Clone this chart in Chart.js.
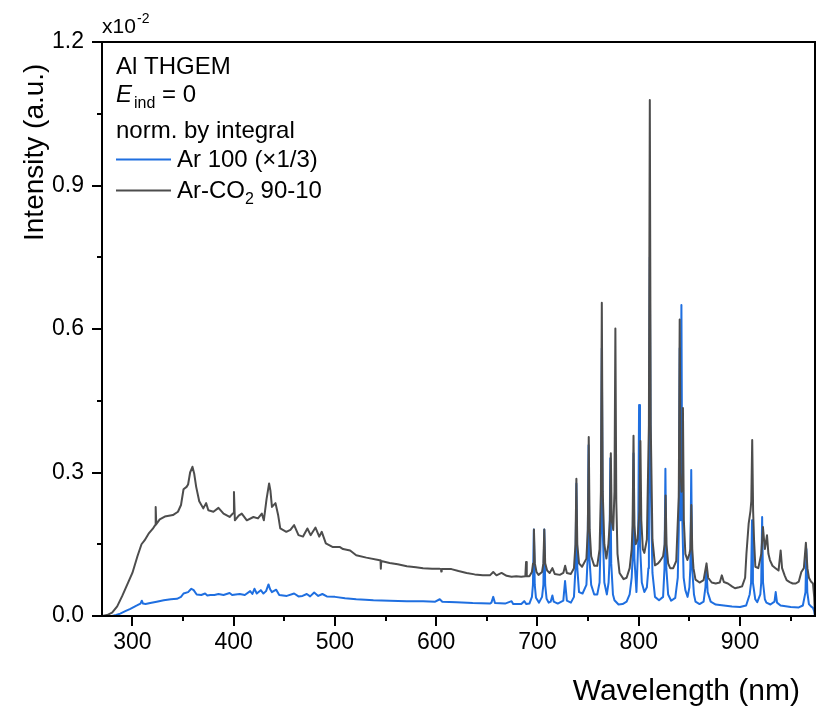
<!DOCTYPE html>
<html>
<head>
<meta charset="utf-8">
<script src="https://cdn.jsdelivr.net/npm/chart.js@4.4.1/dist/chart.umd.min.js"></script>
<style>
  html, body { margin: 0; padding: 0; background: #fff; }
  #c { display: block; }
</style>
</head>
<body>
<canvas id="c" width="830" height="714"></canvas>
<script>
// Ar-CO2 90-10 spectrum (x10^-2, norm. by integral)
const co2Wl = [
  270, 275, 280, 285, 290, 295, 300, 305, 309, 312,
  316, 320, 322.5, 323, 323.6, 327, 332, 340, 345, 348,
  350.5, 353.5, 355, 357, 359.3, 361, 363, 366, 370, 372.8,
  375, 380, 385, 390, 396, 399.5, 400.3, 401.2, 405, 408,
  413, 419.5, 424, 427.8, 429.8, 432.5, 435, 436.3, 437.8, 441.3,
  444, 446, 452, 456, 459.7, 464, 468.5, 472.8, 476, 480.8,
  484.5, 487, 491, 498, 505, 508, 515, 521, 531, 543,
  545, 545.3, 545.7, 554, 562, 571, 580, 587, 596, 603,
  604.7, 605, 605.4, 615, 622, 630, 638, 646, 653, 656.3,
  659.5, 664.5, 669.5, 674.4, 679, 684, 688, 688.7, 689.4, 692,
  694.5, 695.6, 696.5, 697.4, 699, 701, 704.5, 705.8, 706.7, 707.6,
  709.5, 712, 714.7, 717, 722, 725.5, 727.3, 729, 733, 736,
  737.5, 738.4, 739.3, 741, 744, 748.3, 749.7, 750.6, 751.5, 753,
  756, 759, 761.3, 762.6, 763.5, 764.4, 766, 768, 770, 771.5,
  772.4, 773.3, 774.8, 776, 776.9, 777.8, 779, 781, 785, 788,
  791, 793, 793.9, 794.8, 795.7, 797, 798.8, 800.7, 801.6, 802.5,
  804, 805.5, 808, 810, 810.9, 811.8, 813.5, 816, 819, 821,
  824, 825.6, 826.5, 827.4, 829, 831, 834, 837, 839.5, 840.4,
  841.3, 842.2, 842.8, 843.6, 844.5, 846, 848, 850, 851, 851.9,
  852.8, 854, 856, 860, 864, 866.9, 868.5, 872, 876, 880,
  882, 884, 888, 892, 895, 899, 902, 905, 906.3, 908.5,
  910.3, 911.1, 912, 912.9, 913.8, 915.1, 918, 921, 922.6, 924.5,
  926.6, 928, 929.5, 932, 935, 938, 940.1, 941.5, 944, 946,
  949, 952, 955, 958, 960.5, 963, 965, 966.5, 968, 970,
  972, 973.2, 974
];
const co2Int = [
  0.000, 0.002, 0.007, 0.020, 0.042, 0.066, 0.090, 0.125, 0.150, 0.158,
  0.172, 0.182, 0.190, 0.228, 0.192, 0.202, 0.208, 0.211, 0.218, 0.232,
  0.265, 0.270, 0.275, 0.300, 0.312, 0.298, 0.270, 0.240, 0.225, 0.236,
  0.221, 0.218, 0.226, 0.214, 0.207, 0.215, 0.259, 0.200, 0.210, 0.214,
  0.200, 0.207, 0.204, 0.214, 0.200, 0.245, 0.277, 0.262, 0.228, 0.236,
  0.210, 0.183, 0.176, 0.180, 0.190, 0.169, 0.166, 0.183, 0.169, 0.185,
  0.166, 0.176, 0.152, 0.144, 0.144, 0.140, 0.137, 0.127, 0.122, 0.117,
  0.116, 0.099, 0.115, 0.111, 0.108, 0.104, 0.102, 0.100, 0.099, 0.099,
  0.098, 0.093, 0.098, 0.098, 0.094, 0.090, 0.087, 0.085, 0.085, 0.092,
  0.085, 0.090, 0.084, 0.082, 0.083, 0.082, 0.083, 0.113, 0.083, 0.083,
  0.092, 0.110, 0.181, 0.110, 0.092, 0.086, 0.092, 0.110, 0.181, 0.110,
  0.095, 0.090, 0.100, 0.088, 0.086, 0.090, 0.105, 0.090, 0.088, 0.100,
  0.150, 0.287, 0.150, 0.110, 0.103, 0.120, 0.180, 0.374, 0.180, 0.125,
  0.105, 0.105, 0.140, 0.260, 0.655, 0.260, 0.150, 0.120, 0.150, 0.200,
  0.340, 0.200, 0.180, 0.260, 0.601, 0.240, 0.130, 0.090, 0.077, 0.080,
  0.100, 0.140, 0.190, 0.377, 0.190, 0.150, 0.160, 0.220, 0.366, 0.200,
  0.140, 0.132, 0.160, 0.400, 1.079, 0.400, 0.160, 0.106, 0.110, 0.115,
  0.125, 0.150, 0.252, 0.150, 0.110, 0.100, 0.100, 0.115, 0.250, 0.620,
  0.300, 0.260, 0.280, 0.435, 0.200, 0.130, 0.117, 0.130, 0.140, 0.232,
  0.140, 0.100, 0.076, 0.070, 0.075, 0.110, 0.080, 0.070, 0.068, 0.070,
  0.085, 0.071, 0.068, 0.062, 0.058, 0.060, 0.062, 0.080, 0.130, 0.193,
  0.220, 0.240, 0.368, 0.220, 0.160, 0.103, 0.100, 0.130, 0.186, 0.140,
  0.169, 0.130, 0.117, 0.105, 0.100, 0.095, 0.137, 0.100, 0.085, 0.075,
  0.071, 0.068, 0.068, 0.072, 0.092, 0.100, 0.153, 0.100, 0.080, 0.072,
  0.068, 0.040, 0.000
];

// Ar 100 spectrum (x1/3)
const arWl = [
  270, 280, 284, 288, 293, 298, 304.5, 308, 309.3, 310.5,
  313, 317.6, 324, 331, 338, 344, 348, 350.5, 355, 358.2,
  360.5, 363.5, 368, 371.8, 374, 377, 381, 385, 390, 396,
  398.5, 402, 406, 411, 416.3, 418.5, 420.5, 422.8, 426.8, 429.4,
  432, 434.4, 436, 437.7, 442, 445, 452.5, 459.7, 464, 468,
  472.2, 475.5, 479.5, 483.5, 487.6, 492, 500, 510, 521, 530,
  538, 554, 571, 587, 599, 603.5, 606, 620, 636, 653,
  654.5, 656.3, 658, 668, 674.4, 676, 684, 686.9, 689, 692,
  694.5, 695.5, 696.4, 697.3, 698.5, 701.5, 704.5, 705.8, 706.7, 707.6,
  709, 711, 713, 714.7, 716, 720, 725.5, 727.2, 729, 733,
  736, 737.5, 738.4, 739.3, 741, 744.5, 748.3, 749.5, 750.4, 751.3,
  753, 756, 759, 761.3, 762.6, 763.5, 764.4, 766, 768.5, 770.2,
  771, 771.9, 772.8, 774.5, 776, 780, 784, 788, 791, 793,
  793.9, 794.8, 795.7, 797.7, 799.4, 800.3, 801.2, 803, 805.5, 808,
  809.5, 810, 810.9, 811.8, 813.5, 816, 820, 824, 825.4, 826.3,
  827.2, 829, 832, 836, 838.5, 839.5, 840.4, 841.2, 842.1, 843,
  844.3, 846, 848.2, 850, 850.9, 851.8, 852.7, 854.5, 856, 860,
  864, 865.8, 866.8, 868, 871, 876, 884, 892, 900, 906,
  909.5, 910.9, 911.8, 912.7, 915, 917, 920, 920.9, 921.8, 922.7,
  924.5, 926, 930, 934, 935.2, 936.5, 940, 950, 958, 962,
  964.6, 965.5, 966.4, 968, 970, 972, 973.2, 974
];
const arInt = [
  0.000, 0.000, 0.002, 0.005, 0.010, 0.015, 0.022, 0.026, 0.032, 0.026,
  0.025, 0.027, 0.030, 0.033, 0.035, 0.036, 0.040, 0.047, 0.050, 0.057,
  0.054, 0.045, 0.044, 0.047, 0.043, 0.044, 0.044, 0.046, 0.044, 0.048,
  0.044, 0.045, 0.046, 0.044, 0.052, 0.046, 0.057, 0.047, 0.054, 0.047,
  0.052, 0.066, 0.056, 0.050, 0.055, 0.044, 0.042, 0.047, 0.041, 0.042,
  0.046, 0.041, 0.049, 0.042, 0.046, 0.041, 0.040, 0.037, 0.035, 0.034,
  0.033, 0.032, 0.031, 0.031, 0.030, 0.035, 0.030, 0.029, 0.027, 0.026,
  0.028, 0.040, 0.027, 0.026, 0.031, 0.025, 0.025, 0.031, 0.025, 0.026,
  0.040, 0.065, 0.181, 0.065, 0.038, 0.028, 0.040, 0.065, 0.181, 0.065,
  0.036, 0.028, 0.030, 0.043, 0.030, 0.026, 0.032, 0.073, 0.032, 0.028,
  0.040, 0.100, 0.277, 0.100, 0.050, 0.047, 0.065, 0.120, 0.357, 0.120,
  0.065, 0.045, 0.045, 0.070, 0.180, 0.560, 0.180, 0.070, 0.045, 0.070,
  0.110, 0.330, 0.110, 0.045, 0.033, 0.024, 0.025, 0.030, 0.045, 0.080,
  0.120, 0.340, 0.120, 0.050, 0.150, 0.441, 0.150, 0.070, 0.050, 0.060,
  0.100, 0.280, 0.750, 0.280, 0.090, 0.040, 0.033, 0.040, 0.100, 0.308,
  0.100, 0.045, 0.032, 0.038, 0.080, 0.180, 0.560, 0.200, 0.650, 0.200,
  0.080, 0.054, 0.040, 0.060, 0.100, 0.305, 0.100, 0.045, 0.030, 0.025,
  0.030, 0.060, 0.100, 0.050, 0.030, 0.024, 0.022, 0.020, 0.019, 0.022,
  0.045, 0.070, 0.200, 0.070, 0.035, 0.029, 0.045, 0.070, 0.207, 0.070,
  0.035, 0.028, 0.024, 0.030, 0.050, 0.028, 0.022, 0.019, 0.018, 0.022,
  0.050, 0.140, 0.050, 0.025, 0.020, 0.017, 0.010, 0.000
];

const xMajor = [300, 400, 500, 600, 700, 800, 900];
const xMinor = [350, 450, 550, 650, 750, 850, 950];
const yMajor = [0, 0.3, 0.6, 0.9, 1.2];
const yMinor = [0.15, 0.45, 0.75, 1.05];

const FONT = "'Liberation Sans', Arial, sans-serif";
const BLUE = '#1f6fe0';
const GREY = '#4d4d4d';

const toPoints = (xs, ys) => xs.map((x, i) => ({ x: x, y: ys[i] }));

// ticks, frame, titles and legend text
const decorations = {
  id: 'decorations',
  afterDraw(chart) {
    const ctx = chart.ctx;
    const area = chart.chartArea;
    const xs = chart.scales.x;
    const ys = chart.scales.y;
    ctx.save();
    ctx.strokeStyle = '#000';
    ctx.lineWidth = 2;
    ctx.beginPath();
    xMajor.concat(xMinor).forEach(v => {
      const px = Math.round(xs.getPixelForValue(v));
      const len = xMajor.includes(v) ? 10 : 5;
      ctx.moveTo(px, area.bottom);
      ctx.lineTo(px, area.bottom + len);
    });
    yMajor.concat(yMinor).forEach(v => {
      const py = Math.round(ys.getPixelForValue(v));
      const len = yMajor.includes(v) ? 10 : 5;
      ctx.moveTo(area.left, py);
      ctx.lineTo(area.left - len, py);
    });
    ctx.stroke();
    ctx.strokeRect(area.left, area.top, area.right - area.left, area.bottom - area.top);

    ctx.fillStyle = '#000';
    ctx.textBaseline = 'alphabetic';
    ctx.textAlign = 'left';

    // exponent above the y axis
    ctx.font = '21px ' + FONT;
    ctx.fillText('x10', 102, 33);
    ctx.font = '14px ' + FONT;
    ctx.fillText('-2', 137, 23);

    // axis titles
    ctx.font = '30px ' + FONT;
    ctx.textAlign = 'right';
    ctx.fillText('Wavelength (nm)', 800, 700);
    ctx.save();
    ctx.translate(43, 241);
    ctx.rotate(-Math.PI / 2);
    ctx.textAlign = 'left';
    ctx.font = '28px ' + FONT;
    ctx.fillText('Intensity (a.u.)', 0, 0);
    ctx.restore();

    // legend block
    ctx.textAlign = 'left';
    ctx.font = '24px ' + FONT;
    ctx.fillText('Al THGEM', 116, 74);
    ctx.font = 'italic 24px ' + FONT;
    ctx.fillText('E', 116, 102);
    let w = ctx.measureText('E').width;
    ctx.font = '16px ' + FONT;
    ctx.fillText('ind', 116 + w + 2, 108);
    w += 2 + ctx.measureText('ind').width;
    ctx.font = '24px ' + FONT;
    ctx.fillText(' = 0', 116 + w, 102);
    ctx.fillText('norm. by integral', 116, 138);
    ctx.fillText('Ar 100 (\u00d71/3)', 177, 167);
    ctx.fillText('Ar-CO', 177, 198);
    const wc = ctx.measureText('Ar-CO').width;
    ctx.font = '16px ' + FONT;
    ctx.fillText('2', 177 + wc, 204);
    const w2 = ctx.measureText('2').width;
    ctx.font = '24px ' + FONT;
    ctx.fillText(' 90-10', 177 + wc + w2, 198);

    ctx.lineWidth = 2;
    ctx.strokeStyle = BLUE;
    ctx.beginPath();
    ctx.moveTo(116, 159.5);
    ctx.lineTo(171, 159.5);
    ctx.stroke();
    ctx.strokeStyle = GREY;
    ctx.beginPath();
    ctx.moveTo(116, 190.5);
    ctx.lineTo(171, 190.5);
    ctx.stroke();
    ctx.restore();
  }
};

new Chart(document.getElementById('c'), {
  type: 'line',
  data: {
    datasets: [{
      label: 'Ar-CO2 90-10',
      data: toPoints(co2Wl, co2Int),
      borderColor: GREY,
      borderWidth: 2,
      borderJoinStyle: 'round',
      pointRadius: 0,
      tension: 0,
      fill: false
    }, {
      label: 'Ar 100 (x1/3)',
      data: toPoints(arWl, arInt),
      borderColor: BLUE,
      borderWidth: 2,
      borderJoinStyle: 'round',
      pointRadius: 0,
      tension: 0,
      fill: false
    }]
  },
  options: {
    responsive: false,
    animation: false,
    devicePixelRatio: 1,
    layout: { padding: { top: 42, right: 15, left: 0, bottom: 0 } },
    plugins: {
      legend: { display: false },
      tooltip: { enabled: false }
    },
    scales: {
      x: {
        type: 'linear',
        min: 270,
        max: 974,
        grid: { display: false, drawTicks: false },
        border: { display: false },
        afterBuildTicks: s => { s.ticks = xMajor.map(v => ({ value: v })); },
        afterFit: s => { s.height = 98; },
        ticks: {
          padding: 13,
          maxRotation: 0,
          color: '#000',
          font: { family: FONT, size: 23 },
          callback: v => String(v)
        }
      },
      y: {
        type: 'linear',
        min: 0,
        max: 1.2,
        grid: { display: false, drawTicks: false },
        border: { display: false },
        afterBuildTicks: s => { s.ticks = yMajor.map(v => ({ value: v })); },
        afterFit: s => { s.width = 102; },
        ticks: {
          padding: 18,
          color: '#000',
          font: { family: FONT, size: 23 },
          callback: v => v.toFixed(1)
        }
      }
    }
  },
  plugins: [decorations]
});
</script>
</body>
</html>
